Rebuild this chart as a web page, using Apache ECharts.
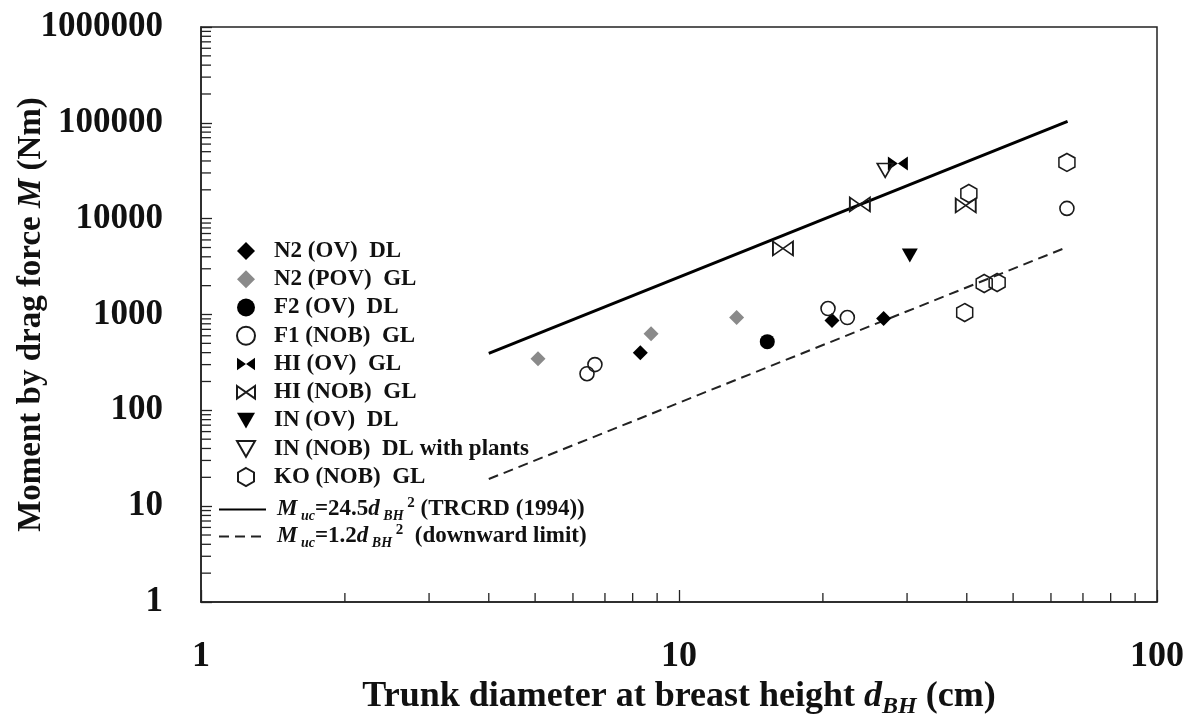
<!DOCTYPE html>
<html>
<head>
<meta charset="utf-8">
<title>Moment by drag force</title>
<script src="https://cdn.jsdelivr.net/npm/echarts@6/dist/echarts.min.js"></script>
<style>
  html, body { margin: 0; padding: 0; background: #fff; }
  #chart { width: 1190px; height: 719px; }
</style>
</head>
<body>
<div id="chart"></div>
<script>
  // trunk diameter d_BH (cm) and moment (Nm)
  const n2ovX = [8.3, 20.9, 26.8];
  const n2ovY = [400, 864, 906];
  const n2povX = [5.07, 8.74, 13.2];
  const n2povY = [346, 631, 929];
  const f2ovX = [15.3];
  const f2ovY = [521];
  const f1nobX = [6.42, 6.67, 20.5, 22.5, 64.8];
  const f1nobY = [241, 300, 1153, 929, 12790];
  const hiovX = [28.7];
  const hiovY = [37750];
  const hinobX = [16.5, 23.9, 39.8];
  const hinobY = [4886, 14070, 13740];
  const inovX = [30.4];
  const inovY = [4125];
  const innobX = [27.0];
  const innobY = [31900];
  const konobX = [40.4, 64.8, 43.5, 46.3, 39.6];
  const konobY = [18330, 38650, 2103, 2160, 1047];

  // the two reference lines (start / end)
  const lineX = [4, 65];
  const trcrdY = [392, 103500];
  const downY = [19.2, 5070];

  const xTickLabels = ['1', '10', '100'];
  const yTickLabels = ['1', '10', '100', '1000', '10000', '100000', '1000000'];

  const minorSteps = [2, 3, 4, 5, 6, 7, 8, 9];
  const xDecades = [1, 10];
  const yDecades = [1, 10, 100, 1000, 10000, 100000];

  const font = "'Liberation Serif', 'Times New Roman', serif";
  const ink = '#111';
  const none = 'rgba(0,0,0,0)';

  const bowtie = 'path://M0,0L10,7L0,14Z M20,0L10,7L20,14Z';
  const triDown = 'path://M0,0L16,0L8,14Z';
  const hexagon = 'path://M8,0L16,4.5L16,13.5L8,18L0,13.5L0,4.5Z';

  function pairs(xs, ys) {
    return xs.map((x, i) => [x, ys[i]]);
  }

  const xMinor = [];
  xDecades.forEach(d => minorSteps.forEach(s => xMinor.push(d * s)));
  const yMinor = [];
  yDecades.forEach(d => minorSteps.forEach(s => yMinor.push(d * s)));

  function tickSeries(axis, values, len) {
    return {
      type: 'custom',
      silent: true,
      clip: false,
      z: 3,
      data: values.map(v => axis === 'x' ? [v, 1] : [1, v]),
      renderItem: function (params, api) {
        const p = api.coord([api.value(0), api.value(1)]);
        const shape = axis === 'x'
          ? {x1: p[0], y1: p[1], x2: p[0], y2: p[1] - len}
          : {x1: p[0], y1: p[1], x2: p[0] + len, y2: p[1]};
        return {type: 'line', shape: shape, style: {stroke: '#222', lineWidth: 1.3}};
      }
    };
  }

  function scatter(name, xs, ys, symbol, size, fill, border) {
    return {
      name: name,
      type: 'scatter',
      symbol: symbol,
      symbolSize: size,
      z: 5,
      itemStyle: {
        color: fill,
        borderColor: border ? '#1a1a1a' : fill,
        borderWidth: border ? 1.6 : 0,
        opacity: 1
      },
      data: pairs(xs, ys)
    };
  }

  const names = [
    'N2 (OV)  DL', 'N2 (POV)  GL', 'F2 (OV)  DL', 'F1 (NOB)  GL', 'HI (OV)  GL',
    'HI (NOB)  GL', 'IN (OV)  DL', 'IN (NOB)  DL with plants', 'KO (NOB)  GL'
  ];

  const chart = echarts.init(document.getElementById('chart'));
  chart.setOption({
    backgroundColor: '#fff',
    animation: false,
    grid: {
      left: 201, right: 33, top: 27, bottom: 117,
      containLabel: false,
      outerBoundsMode: 'none',
      show: true, borderColor: '#222', borderWidth: 1.5
    },
    legend: [{
      data: names,
      orient: 'vertical',
      left: 236,
      top: 239,
      padding: 0,
      itemWidth: 18,
      itemHeight: 18,
      itemGap: 4.25,
      selectedMode: false,
      textStyle: {
        fontFamily: font, fontWeight: 'bold', fontSize: 23, lineHeight: 24, color: ink,
        padding: [0, 0, 0, 14]
      }
    }, {
      data: ['trcrd', 'down'],
      orient: 'vertical',
      left: 218,
      top: 496,
      padding: 0,
      itemWidth: 47,
      itemHeight: 14,
      itemGap: 0,
      selectedMode: false,
      formatter: function (name) {
        if (name === 'trcrd') {
          return '{i|M}{s| uc}{n|=24.5}{i|d}{s| BH}{p| 2}{n| (TRCRD (1994))}';
        }
        return '{i|M}{s| uc}{n|=1.2}{i|d}{s| BH}{p| 2}{n|  (downward limit)}';
      },
      textStyle: {
        fontFamily: font, fontWeight: 'bold', fontSize: 23, color: ink,
        padding: [0, 0, 0, 6],
        rich: {
          n: {fontFamily: font, fontWeight: 'bold', fontSize: 23, lineHeight: 27, color: ink},
          i: {fontFamily: font, fontWeight: 'bold', fontStyle: 'italic', fontSize: 23, lineHeight: 27, color: ink},
          s: {fontFamily: font, fontWeight: 'bold', fontStyle: 'italic', fontSize: 14, lineHeight: 14, verticalAlign: 'bottom', color: ink},
          p: {fontFamily: font, fontWeight: 'bold', fontSize: 15, lineHeight: 15, verticalAlign: 'top', color: ink}
        }
      }
    }],
    xAxis: {
      type: 'log',
      logBase: 10,
      min: 1,
      max: 100,
      name: 'Trunk diameter at breast height {i|d}{s|BH} (cm)',
      nameLocation: 'middle',
      nameMoveOverlap: false,
      nameGap: 73,
      nameTextStyle: {
        fontFamily: font, fontWeight: 'bold', fontSize: 36, color: ink, lineHeight: 44,
        rich: {
          i: {fontFamily: font, fontWeight: 'bold', fontStyle: 'italic', fontSize: 36, lineHeight: 44, color: ink},
          s: {fontFamily: font, fontWeight: 'bold', fontStyle: 'italic', fontSize: 24, lineHeight: 24, verticalAlign: 'bottom', color: ink}
        }
      },
      axisLine: {show: true, lineStyle: {color: '#222', width: 1.5}},
      axisTick: {show: true, inside: true, length: 12, lineStyle: {color: '#222', width: 1.3}},
      splitLine: {show: false},
      axisLabel: {
        fontFamily: font, fontWeight: 'bold', fontSize: 36, color: ink, margin: 37,
        formatter: function (v) {
          return xTickLabels[Math.round(Math.log10(v))];
        }
      }
    },
    yAxis: {
      type: 'log',
      logBase: 10,
      min: 1,
      max: 1000000,
      name: 'Moment by drag force {i|M} (Nm)',
      nameLocation: 'middle',
      nameMoveOverlap: false,
      nameGap: 153,
      nameTextStyle: {
        fontFamily: font, fontWeight: 'bold', fontSize: 33, color: ink,
        rich: {
          i: {fontFamily: font, fontWeight: 'bold', fontStyle: 'italic', fontSize: 33, color: ink}
        }
      },
      axisLine: {show: true, lineStyle: {color: '#222', width: 1.5}},
      axisTick: {show: true, inside: true, length: 11, lineStyle: {color: '#222', width: 1.3}},
      splitLine: {show: false},
      axisLabel: {
        fontFamily: font, fontWeight: 'bold', fontSize: 35, color: ink, margin: 38,
        formatter: function (v) {
          return yTickLabels[Math.round(Math.log10(v))];
        }
      }
    },
    series: [
      {
        name: 'trcrd', type: 'line', symbol: 'none', z: 4,
        itemStyle: {color: none},
        lineStyle: {color: '#000', width: 3},
        data: pairs(lineX, trcrdY)
      },
      {
        name: 'down', type: 'line', symbol: 'none', z: 4,
        itemStyle: {color: none},
        lineStyle: {color: '#222', width: 2, type: [10, 6]},
        data: pairs(lineX, downY)
      },
      scatter(names[0], n2ovX, n2ovY, 'diamond', 15, '#000', false),
      scatter(names[1], n2povX, n2povY, 'diamond', 15, '#8a8a8a', false),
      scatter(names[2], f2ovX, f2ovY, 'circle', 15, '#000', false),
      scatter(names[3], f1nobX, f1nobY, 'circle', 14, none, true),
      scatter(names[4], hiovX, hiovY, bowtie, [20, 14], '#000', false),
      scatter(names[5], hinobX, hinobY, bowtie, [20, 14], none, true),
      scatter(names[6], inovX, inovY, triDown, [16, 14], '#000', false),
      scatter(names[7], innobX, innobY, triDown, [16, 14], none, true),
      scatter(names[8], konobX, konobY, hexagon, [16, 18], none, true),
      tickSeries('x', xMinor, 9),
      tickSeries('y', yMinor, 10)
    ]
  });
</script>
</body>
</html>
